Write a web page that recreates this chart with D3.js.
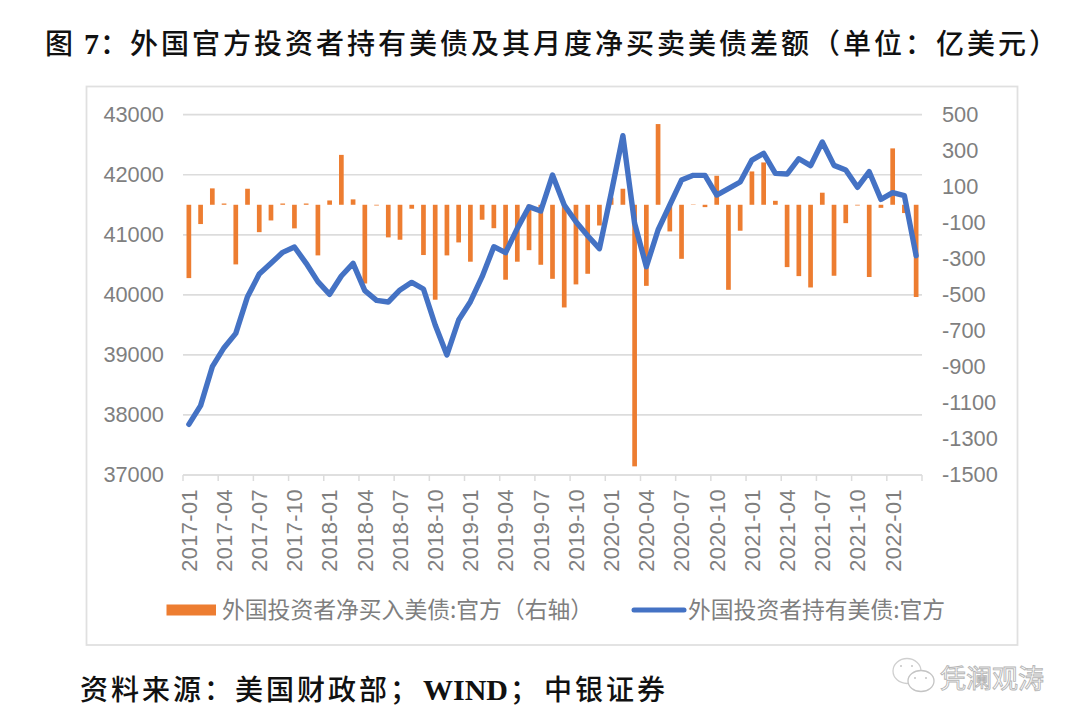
<!DOCTYPE html>
<html>
<head>
<meta charset="utf-8">
<script src="https://cdn.jsdelivr.net/npm/d3@7"></script>
<style>
  html, body { margin: 0; padding: 0; background: #fff; }
  text { font-family: "Liberation Sans", sans-serif; }
  .cjk { font-family: "Noto Sans CJK SC", sans-serif; }
  .tick text { fill: #7f7f7f; font-size: 21.8px; }
  .legend text { fill: #7f7f7f; font-size: 22.8px; }
  .head text { fill: #111; font-size: 28px; font-weight: 500; }
  .head text.latin { font-family: "Liberation Serif", serif; font-weight: 700; font-size: 30px; }
</style>
</head>
<body>
<div id="chart"></div>
<script>
// Chart data
const months = [
  "2017-01","2017-02","2017-03","2017-04","2017-05","2017-06","2017-07","2017-08","2017-09","2017-10","2017-11","2017-12",
  "2018-01","2018-02","2018-03","2018-04","2018-05","2018-06","2018-07","2018-08","2018-09","2018-10","2018-11","2018-12",
  "2019-01","2019-02","2019-03","2019-04","2019-05","2019-06","2019-07","2019-08","2019-09","2019-10","2019-11","2019-12",
  "2020-01","2020-02","2020-03","2020-04","2020-05","2020-06","2020-07","2020-08","2020-09","2020-10","2020-11","2020-12",
  "2021-01","2021-02","2021-03","2021-04","2021-05","2021-06","2021-07","2021-08","2021-09","2021-10","2021-11","2021-12",
  "2022-01","2022-02","2022-03"
];
const netBuying = [
  -407,-107,91,7,-331,89,-152,-87,7,-131,7,-281,
  24,277,30,-437,-4,-181,-194,-22,-279,-527,-281,-209,
  -316,-83,-130,-416,-316,-252,-333,-411,-570,-442,-383,-115,
  40,89,-1452,-450,448,-148,-300,2,-13,161,-472,-144,
  185,235,22,-346,-396,-459,67,-394,-102,-4,-401,-17,
  313,-46,-512
];
const holdings = [
  37844,38155,38804,39120,39359,39970,40347,40525,40708,40797,40525,40220,
  40009,40314,40525,40070,39909,39881,40081,40208,40097,39498,38999,39581,
  39886,40303,40802,40702,41107,41468,41396,41995,41496,41218,40985,40769,
  41690,42650,41191,40469,41080,41496,41912,41990,41990,41662,41768,41879,
  42245,42356,42023,42012,42267,42151,42545,42156,42079,41790,42051,41590,
  41701,41651,40652
];
const leftTicks = [37000,38000,39000,40000,41000,42000,43000];
const rightTicks = [-1500,-1300,-1100,-900,-700,-500,-300,-100,100,300,500];
const xLabels = months.filter((d, i) => i % 3 === 0);
const legendBars = "外国投资者净买入美债:官方（右轴）";
const legendLine = "外国投资者持有美债:官方";

// Layout
const WIDTH = 1080, HEIGHT = 725;
const PLOT = {LEFT: 183, RIGHT: 922, TOP: 114.7, BOTTOM: 475};
const BLUE = "#4472c4", ORANGE = "#ed7d31", GRID = "#dcdcdc";

const svg = d3.select("#chart").append("svg")
  .attr("width", WIDTH)
  .attr("height", HEIGHT)
  .style("display", "block");

// Chart frame
svg.append("rect")
  .attr("x", 86.5).attr("y", 86.5)
  .attr("width", 931).attr("height", 558.5)
  .attr("fill", "#fff")
  .attr("stroke", "#e0e0e0")
  .attr("stroke-width", 1.8);

// Scales
const x = d3.scaleBand()
  .domain(months)
  .range([PLOT.LEFT, PLOT.RIGHT])
  .paddingInner(0.6)
  .paddingOuter(0.3);
const step = x.step();
const center = d => x(d) + x.bandwidth() / 2;
const yLeft = d3.scaleLinear().domain([37000, 43000]).range([PLOT.BOTTOM, PLOT.TOP]);
const yRight = d3.scaleLinear().domain([-1500, 500]).range([PLOT.BOTTOM, PLOT.TOP]);

// Left axis with gridlines
const leftAxis = svg.append("g")
  .attr("transform", `translate(${PLOT.LEFT},0)`)
  .call(d3.axisLeft(yLeft).tickValues(leftTicks).tickFormat(d3.format("d"))
    .tickSize(-(PLOT.RIGHT - PLOT.LEFT)).tickPadding(19).offset(0));
leftAxis.select(".domain").remove();
leftAxis.selectAll(".tick line").attr("stroke", GRID).attr("stroke-width", 1.7);

// Right axis, labels are left aligned
const rightAxis = svg.append("g")
  .attr("transform", `translate(${PLOT.RIGHT},0)`)
  .call(d3.axisRight(yRight).tickValues(rightTicks).tickFormat(d3.format("d"))
    .tickSize(0).tickPadding(20).offset(0));
rightAxis.select(".domain").remove();
rightAxis.selectAll("text").text(d => String(d));

// Category axis
const bottomAxis = svg.append("g")
  .attr("transform", `translate(0,${PLOT.BOTTOM})`)
  .call(d3.axisBottom(x).tickValues(xLabels).tickSize(0).offset(0));
bottomAxis.select(".domain").remove();
bottomAxis.selectAll("text")
  .attr("transform", "rotate(-90)")
  .attr("text-anchor", "end")
  .attr("x", -14)
  .attr("y", 0)
  .attr("dy", "0.36em")
  .style("letter-spacing", "0.4px");

svg.append("line")
  .attr("x1", PLOT.LEFT).attr("x2", PLOT.RIGHT)
  .attr("y1", PLOT.BOTTOM).attr("y2", PLOT.BOTTOM)
  .attr("stroke", GRID).attr("stroke-width", 1.7);

const tickEdges = xLabels.map(d => x(d) - step * 0.3).concat(PLOT.RIGHT);
svg.selectAll(".xtick")
  .data(tickEdges)
  .enter()
  .append("line")
  .attr("class", "xtick")
  .attr("x1", d => d).attr("x2", d => d)
  .attr("y1", PLOT.BOTTOM).attr("y2", PLOT.BOTTOM + 6)
  .attr("stroke", GRID).attr("stroke-width", 1.5);

// Bars on the right axis
svg.selectAll(".bar")
  .data(months)
  .enter()
  .append("rect")
  .attr("class", "bar")
  .attr("x", d => x(d))
  .attr("width", x.bandwidth())
  .attr("y", (d, i) => Math.min(yRight(netBuying[i]), yRight(0)))
  .attr("height", (d, i) => Math.abs(yRight(netBuying[i]) - yRight(0)))
  .attr("fill", ORANGE);

// Holdings line on the left axis
const line = d3.line()
  .x(d => center(d))
  .y((d, i) => yLeft(holdings[i]));
svg.append("path")
  .attr("d", line(months))
  .attr("fill", "none")
  .attr("stroke", BLUE)
  .attr("stroke-width", 5.4)
  .attr("stroke-linecap", "round")
  .attr("stroke-linejoin", "round");

// Legend
const legend = svg.append("g").attr("class", "legend");
legend.append("rect")
  .attr("x", 166.5).attr("y", 604.5)
  .attr("width", 49.5).attr("height", 11)
  .attr("fill", ORANGE);
legend.append("text").attr("class", "cjk")
  .attr("x", 222).attr("y", 618).text(legendBars);
legend.append("line")
  .attr("x1", 634).attr("x2", 684)
  .attr("y1", 610).attr("y2", 610)
  .attr("stroke", BLUE).attr("stroke-width", 5)
  .attr("stroke-linecap", "round");
legend.append("text").attr("class", "cjk")
  .attr("x", 688).attr("y", 618).text(legendLine);

// Title and source line
const head = svg.append("g").attr("class", "head");
function headText(str, xPos, yPos, cls, spacing) {
  head.append("text")
    .attr("class", cls)
    .attr("x", xPos).attr("y", yPos)
    .style("letter-spacing", spacing + "px")
    .text(str);
}
headText("图", 45, 54, "cjk", 0);
headText("7", 84, 54, "latin", 0);
headText("：", 100, 54, "cjk", 0);
headText("外国官方投资者持有美债及其月度净买卖美债差额（单位：亿美元）", 130, 54, "cjk", 3);

headText("资料来源：美国财政部；", 80, 700, "cjk", 3);
headText("WIND", 423, 700, "latin", 0);
headText("；", 510, 700, "cjk", 0);
headText("中银证券", 544, 700, "cjk", 3);

// WeChat watermark
const mark = svg.append("g");
mark.append("ellipse")
  .attr("cx", 907).attr("cy", 671).attr("rx", 14).attr("ry", 12.5)
  .attr("fill", "#fff").attr("stroke", "#cfcfcf").attr("stroke-width", 1.3);
mark.append("ellipse")
  .attr("cx", 921).attr("cy", 681).attr("rx", 13).attr("ry", 10.5)
  .attr("fill", "#fff").attr("stroke", "#c4c4c4").attr("stroke-width", 1.3);
mark.selectAll(".eye")
  .data([[901, 666], [912, 666], [915, 678], [926, 678]])
  .enter()
  .append("circle")
  .attr("cx", d => d[0]).attr("cy", d => d[1]).attr("r", 1)
  .attr("fill", "#c4c4c4");
mark.append("text").attr("class", "cjk")
  .attr("x", 940).attr("y", 688)
  .style("font-size", "26px")
  .attr("fill", "#fff")
  .attr("stroke", "#b5b5b5")
  .attr("stroke-width", 0.9)
  .text("凭澜观涛");
</script>
</body>
</html>
